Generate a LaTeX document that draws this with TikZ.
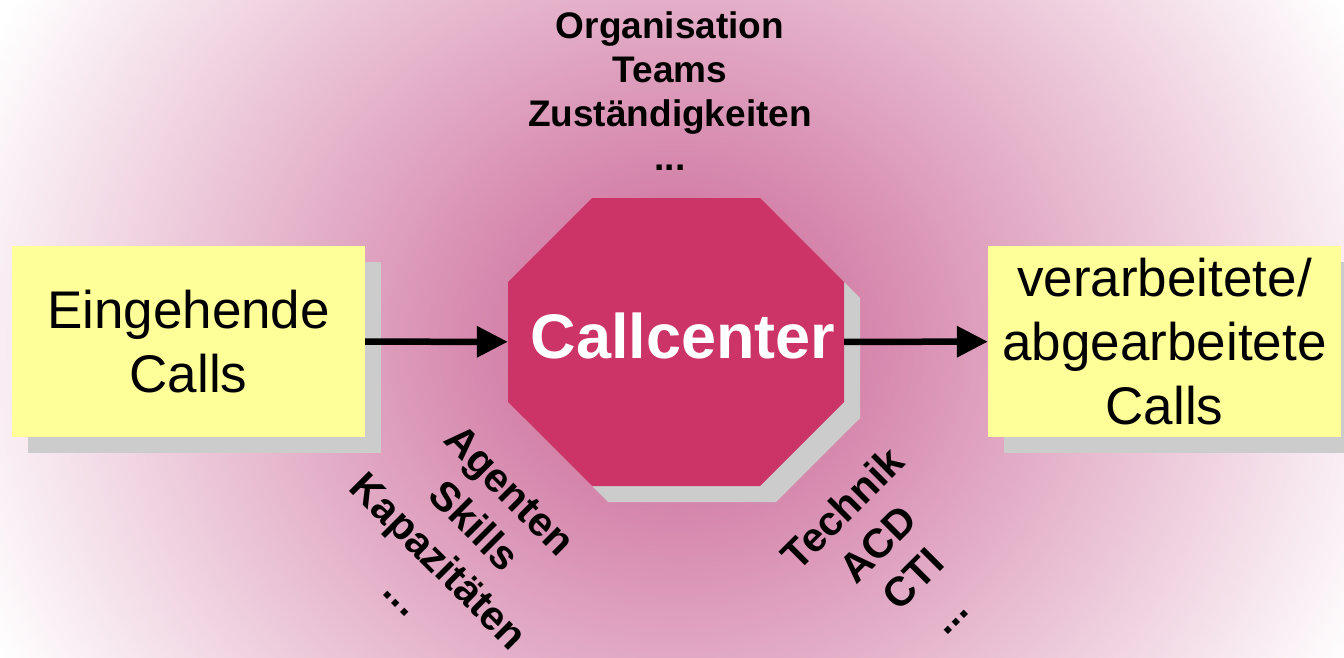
\documentclass[tikz,border=0pt]{standalone}
\usepackage{fontspec}
\setmainfont{Liberation Sans}
\usepackage{tikz}
\usetikzlibrary{arrows.meta,shadows}
\definecolor{callyellow}{HTML}{FFFF99}
\definecolor{callgray}{HTML}{CCCCCC}
\definecolor{callred}{HTML}{CC3366}
\definecolor{glowpink}{RGB}{200,95,145}
\pgfdeclareradialshading{glow}{\pgfpoint{0bp}{0bp}}{color(0bp)=(glowpink); color(25bp)=(white); color(50bp)=(white)}

\begin{document}
\begin{tikzpicture}[x=1pt, y=-1pt, >={Triangle[length=31pt,width=30pt]},
    call box/.style={fill=callyellow, minimum width=353pt, minimum height=191pt, inner sep=0pt, align=center, font=\fontsize{53}{64}\selectfont, general shadow={fill=callgray, shadow xshift=16pt, shadow yshift=-16pt}},
    side label/.style={align=center, inner sep=0pt, font=\fontsize{37}{44}\selectfont\bfseries},
    diag label/.style={align=center, inner sep=0pt, font=\fontsize{41}{50}\selectfont\bfseries}]
    \useasboundingbox (0,0) rectangle (1344,658);
    \clip (0,0) rectangle (1344,658);
    \fill[white] (0,0) rectangle (1344,658);
    \shade[shading=glow] (676,342) ellipse [x radius=760, y radius=690];

    \fill[callgray, shift={(692,358)}] (-84,-144) -- (84,-144) -- (168,-60) -- (168,60) -- (84,144) -- (-84,144) -- (-168,60) -- (-168,-60) -- cycle;
    \fill[callred, shift={(676,342)}] (-84,-144) -- (84,-144) -- (168,-60) -- (168,60) -- (84,144) -- (-84,144) -- (-168,60) -- (-168,-60) -- cycle;

    \node[call box] (in) at (188.5,341.5) {Eingehende\\Calls};
    \node[call box] (out) at (1164.5,341.5) {verarbeitete/\\abgearbeitete\\Calls};
    \node[minimum width=336pt, minimum height=288pt, inner sep=0pt, text height=32pt, text depth=0pt, text=white, font=\fontsize{63}{70}\selectfont\bfseries] (cc) at (676,342) {\hspace*{14pt}Callcenter};

    \node[side label, anchor=north] (orga) at (670,11) {Organisation\\Teams\\Zuständigkeiten\\...};
    \node[diag label, rotate=-45] (staff) at (457,543) {Agenten\\Skills\\Kapazitäten\\...};
    \node[diag label, rotate=45] (tech) at (895,561) {Technik\\ACD\\CTI\\...};

    \path[->, line width=6.5pt]
        (in) edge (cc)
        (cc) edge (out);
\end{tikzpicture}
\end{document}
